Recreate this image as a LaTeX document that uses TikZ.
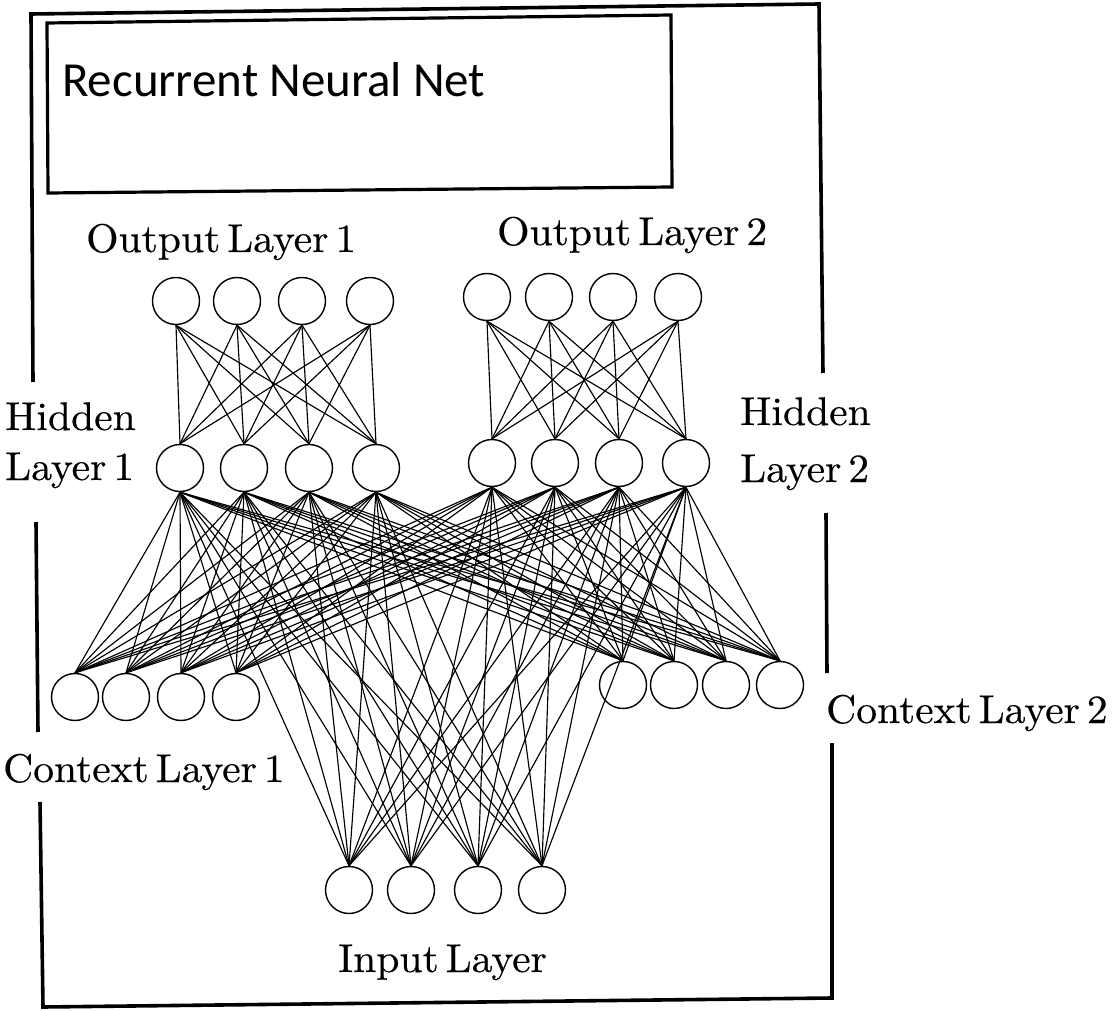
\documentclass[tikz,border=0pt]{standalone}
\usepackage{fontspec}
\newfontfamily\titlefont{Carlito}
\newfontfamily\lblfont{lmroman10-regular.otf}[WordSpace=0.5,FakeStretch=1.04,FakeBold=0.4]
\begin{document}
\begin{tikzpicture}[x=1pt,y=-1pt,
  unit/.style={circle,draw,line width=1.4pt,minimum size=47pt,inner sep=0pt},
  link/.style={line width=1.15pt},
  frame/.style={line width=3.6pt},
  lbl/.style={anchor=base west,inner sep=0pt,font=\lblfont\fontsize{40}{41}\selectfont}]
\useasboundingbox (0,0) rectangle (1112,1011);

% outer frame, broken where the side labels sit
\draw[frame] (33,382) -- (31,14) -- (819,4) -- (823,373);
\draw[frame] (36,522) -- (38,732);
\draw[frame] (40,802) -- (43,1007) -- (832,998) -- (832,743);
\draw[frame] (826,513) -- (827,673);

% title box
\draw[line width=3.2pt] (47,23) -- (671,15) -- (672,187) -- (48,193) -- cycle;
\node[anchor=base west,inner sep=0pt,font=\titlefont\fontsize{49}{50}\selectfont] (title) at (62,97) {Recurrent Neural Net};

% layer labels
\node[lbl] (lo1) at (86,252) {Output Layer 1};
\node[lbl] (lo2) at (497,245) {Output Layer 2};
\node[lbl] (lh1a) at (5,430) {Hidden};
\node[lbl] (lh1b) at (5,480) {Layer 1};
\node[lbl] (lh2a) at (740,425) {Hidden};
\node[lbl] (lh2b) at (740,482) {Layer 2};
\node[lbl] (lc1) at (3,782) {Context Layer 1};
\node[lbl] (lc2) at (826,723) {Context Layer 2};
\node[lbl] (lin) at (338,972) {Input Layer};

% units
\foreach \n/\x in {1/176,2/237,3/302,4/370} \node[unit] (oa\n) at (\x,301) {};
\foreach \n/\x in {1/487,2/549,3/613,4/678} \node[unit] (ob\n) at (\x,297) {};
\foreach \n/\x in {1/180,2/244,3/309,4/376} \node[unit] (ha\n) at (\x,468) {};
\foreach \n/\x in {1/492,2/555,3/619,4/686} \node[unit] (hb\n) at (\x,463) {};
\foreach \n/\x in {1/75,2/126,3/181,4/236} \node[unit] (ca\n) at (\x,697) {};
\foreach \n/\x in {1/623,2/674,3/726,4/780} \node[unit] (cb\n) at (\x,685) {};
\foreach \n/\x in {1/349,2/411,3/478,4/542} \node[unit] (ip\n) at (\x,890) {};

% output <-> hidden, within each half
\foreach \i in {1,...,4} \foreach \j in {1,...,4} {
  \draw[link] (oa\i.south) -- (ha\j.north);
  \draw[link] (ob\i.south) -- (hb\j.north);
}
% hidden <-> context and input, fully connected
\foreach \h in {ha,hb} \foreach \i in {1,...,4} \foreach \j in {1,...,4} {
  \draw[link] (\h\i.south) -- (ca\j.north);
  \draw[link] (\h\i.south) -- (cb\j.north);
  \draw[link] (\h\i.south) -- (ip\j.north);
}
\end{tikzpicture}
\end{document}
